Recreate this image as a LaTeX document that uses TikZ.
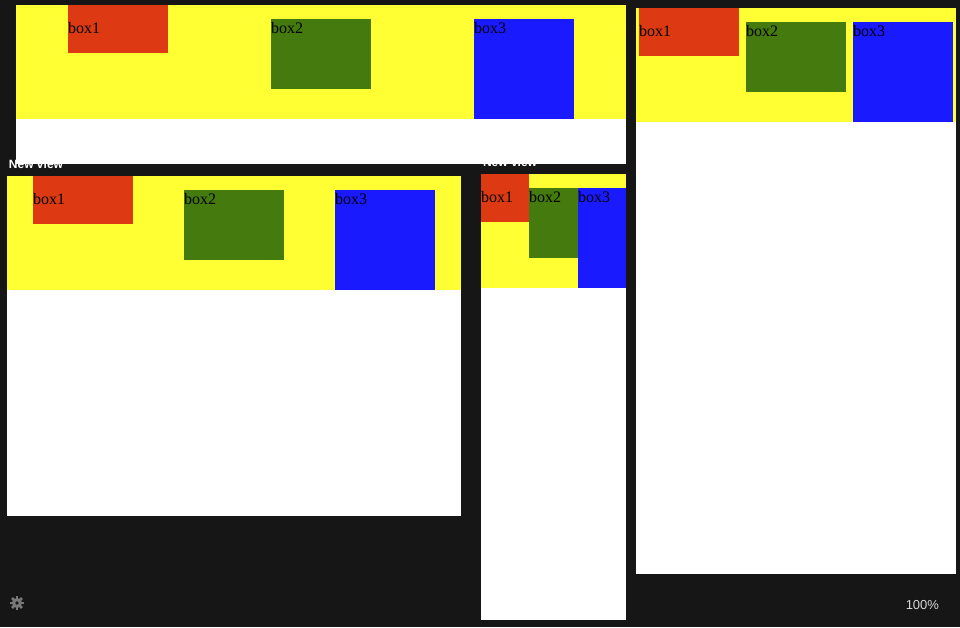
\documentclass[tikz,border=0pt]{standalone}
\usepackage{fontspec}
\setmainfont{Liberation Serif}
\newfontfamily\uifont{Liberation Sans}
\usetikzlibrary{positioning}
\definecolor{bgdark}{RGB}{22,22,22}
\definecolor{stripyellow}{RGB}{255,255,51}
\definecolor{boxred}{RGB}{221,58,20}
\definecolor{boxgreen}{RGB}{69,122,14}
\definecolor{boxblue}{RGB}{26,26,255}
\definecolor{uigray}{RGB}{120,120,120}
\definecolor{uilight}{RGB}{215,215,215}

\begin{document}
\begin{tikzpicture}[x=1pt,y=-1pt,
        every node/.style={inner sep=0pt,outer sep=0pt,anchor=north west},
        view/.style={fill=white},
        strip/.style={fill=stripyellow,minimum height=114},
        redbox/.style={fill=boxred,minimum width=100,minimum height=48},
        greenbox/.style={fill=boxgreen,minimum width=100,minimum height=70},
        bluebox/.style={fill=boxblue,minimum width=100,minimum height=100},
        boxlabel/.style={anchor=base west,font=\fontsize{16}{16}\selectfont},
        viewtitle/.style={anchor=base west,text=white,font=\uifont\bfseries\fontsize{12}{12}\selectfont}]

        \fill[bgdark] (0,0) rectangle (960,627);

        % titles, partly covered by the views above them
        \node[viewtitle] (title2) at (9,168) {New view};
        \node[viewtitle] (title3) at (483,166) {New view};

        % view 1
        \node[view,minimum width=610,minimum height=159] (view1) at (16,5) {};
        \node[strip,minimum width=610] (strip1) at (view1.north west) {};
        \node[redbox] (red1) at (68,5) {};
        \node[greenbox] (green1) at (271,19) {};
        \node[bluebox] (blue1) at (474,19) {};

        % view 2
        \node[view,minimum width=454,minimum height=340] (view2) at (7,176) {};
        \node[strip,minimum width=454] (strip2) at (view2.north west) {};
        \node[redbox] (red2) at (33,176) {};
        \node[greenbox] (green2) at (184,190) {};
        \node[bluebox] (blue2) at (335,190) {};

        % view 3
        \node[view,minimum width=145,minimum height=446] (view3) at (481,174) {};
        \node[strip,minimum width=145] (strip3) at (view3.north west) {};
        \node[redbox,minimum width=48] (red3) at (481,174) {};
        \node[greenbox,minimum width=49] (green3) at (529,188) {};
        \node[bluebox,minimum width=48] (blue3) at (578,188) {};

        % view 4
        \node[view,minimum width=320,minimum height=566] (view4) at (636,8) {};
        \node[strip,minimum width=320] (strip4) at (view4.north west) {};
        \node[redbox] (red4) at (639,8) {};
        \node[greenbox] (green4) at (746,22) {};
        \node[bluebox] (blue4) at (853,22) {};

        % box labels
        \foreach \v in {1,2,3,4} {
          \node[boxlabel] (label\v a) at ([yshift=-28pt]red\v.north west) {box1};
          \node[boxlabel] (label\v b) at ([yshift=-14pt]green\v.north west) {box2};
          \node[boxlabel] (label\v c) at ([yshift=-14pt]blue\v.north west) {box3};
        }

        % settings gear and zoom level
        \coordinate (gear) at (17,603);
        \foreach \a in {0,45,...,315}
          \fill[uigray,rotate around={\a:(gear)}] ([xshift=-1.4pt,yshift=-1pt]gear) rectangle ([xshift=1.4pt,yshift=7pt]gear);
        \fill[uigray] (gear) circle (5);
        \fill[bgdark] (gear) circle (1.8);
        \node[anchor=base east,text=uilight,font=\uifont\fontsize{13}{13}\selectfont] (zoom) at (939,609) {100\%};

      \end{tikzpicture}
\end{document}
